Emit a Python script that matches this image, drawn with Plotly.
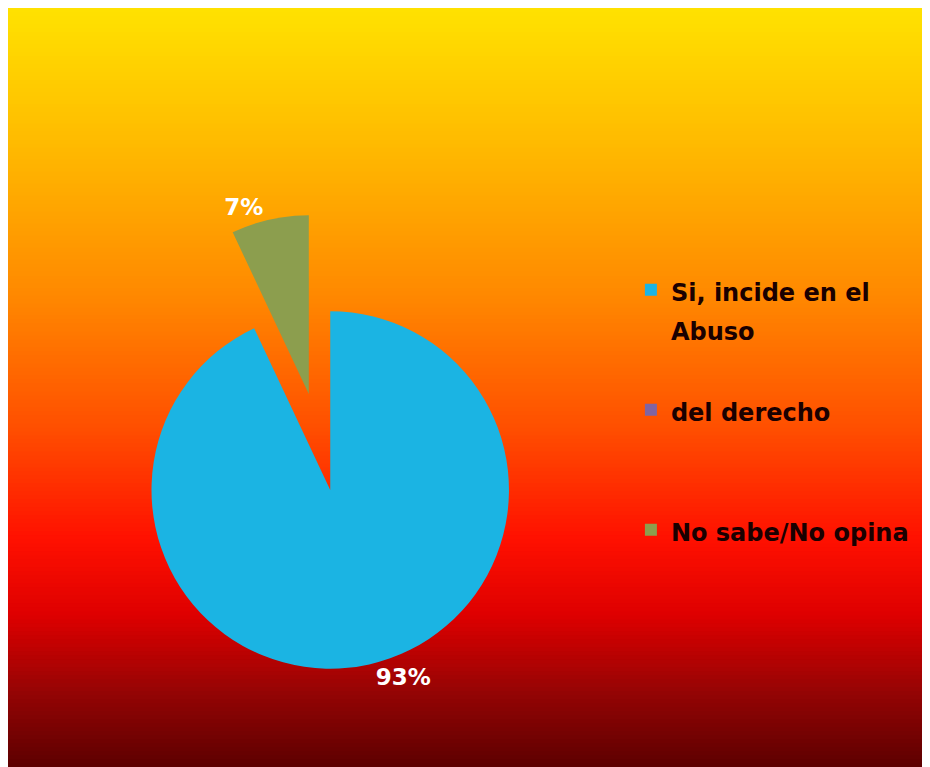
import plotly.graph_objects as go

categories = ["Si, incide en el<br>Abuso", "del derecho", "No sabe/No opina"]
values = [93, 0, 7]
slice_colors = ["#1BB4E3", "#8064A2", "#8C9E4E"]

# background gradient stops (fraction from top, rgb)
grad_stops = [
    (0.00, (255, 226, 0)),
    (0.18, (255, 186, 0)),
    (0.38, (255, 136, 0)),
    (0.55, (255, 80, 0)),
    (0.70, (255, 16, 0)),
    (0.80, (222, 0, 0)),
    (0.90, (150, 4, 4)),
    (1.00, (92, 0, 0)),
]


def interp(t):
    for (t0, c0), (t1, c1) in zip(grad_stops[:-1], grad_stops[1:]):
        if t0 <= t <= t1:
            f = (t - t0) / (t1 - t0) if t1 > t0 else 0
            return "rgb(%d,%d,%d)" % tuple(round(a + (b - a) * f) for a, b in zip(c0, c1))
    return "rgb(%d,%d,%d)" % grad_stops[-1][1]


W, H = 922, 759
n = 190
shapes = []
for i in range(n):
    y1 = 1 - i / n
    y0 = 1 - (i + 1) / n
    shapes.append(dict(type="rect", xref="paper", yref="paper", x0=0, x1=1,
                       y0=max(0, y0 - 3 / H), y1=y1, fillcolor=interp((i + 0.5) / n),
                       line=dict(width=0), layer="below"))

# legend labels: pad each entry with blank lines to reproduce the original spacing
pad_lines = [1, 2, 0]
legend_names = ['<span style="font-size:24px">%s</span>%s' % (c, "<br> " * p)
                for c, p in zip(categories, pad_lines)]

fig = go.Figure()
fig.add_trace(go.Pie(
    labels=legend_names, values=values, sort=False, direction="clockwise", rotation=0,
    marker=dict(colors=slice_colors, line=dict(width=0)),
    pull=[0, 0, 0.55],
    texttemplate=["%{value}%", "", "%{value}%"],
    textposition="outside",
    textfont=dict(family="DejaVu Sans", size=23, color="white", weight="bold"),
    domain=dict(x=[0.049, 0.65], y=[0.0, 0.73]),
    automargin=False,
    hoverinfo="percent",
))

fig.update_layout(
    width=W, height=H,
    margin=dict(l=0, r=0, t=0, b=0),
    paper_bgcolor="white",
    plot_bgcolor="rgba(0,0,0,0)",
    shapes=shapes,
    showlegend=True,
    legend=dict(x=0.6756, y=0.663, xanchor="left", yanchor="top", valign="top",
                bgcolor="rgba(0,0,0,0)",
                font=dict(family="DejaVu Sans", size=30, color="#1a0000", weight="bold"),
                itemwidth=30),
)

fig.write_html("out.html")
